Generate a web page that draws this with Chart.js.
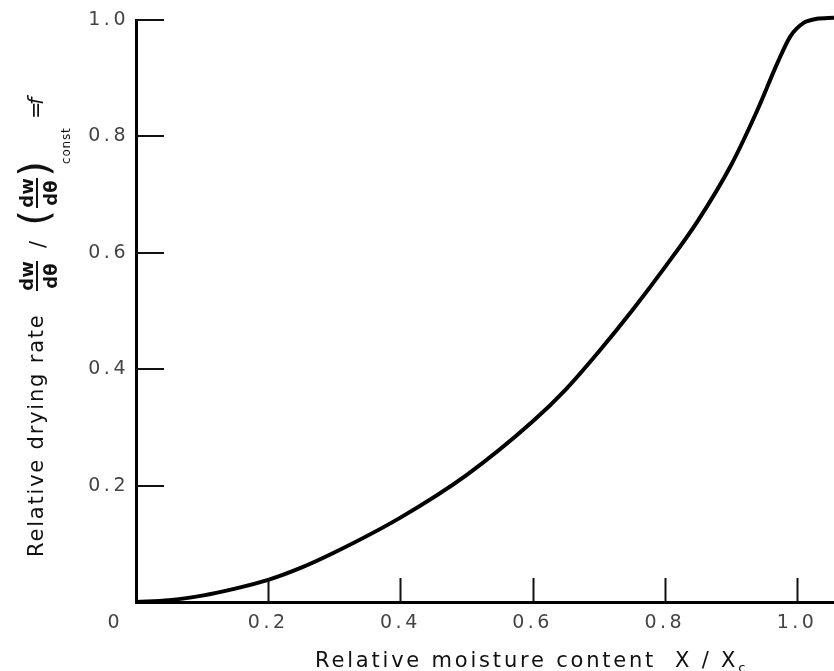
<!DOCTYPE html>
<html>
<head>
<meta charset="utf-8">
<script src="https://cdn.jsdelivr.net/npm/chart.js@4/dist/chart.umd.min.js"></script>
<style>
  html, body { margin: 0; padding: 0; background: #fff; }
  #wrap { width: 834px; height: 671px; }
</style>
</head>
<body>
<div id="wrap"><canvas id="dryingChart" width="834" height="671"></canvas></div>
<script>
// curve: relative moisture content vs relative drying rate
const moistureX = [0, 0.05, 0.1, 0.15, 0.2, 0.25, 0.3, 0.4, 0.5, 0.6, 0.65, 0.7, 0.75, 0.8, 0.85, 0.9, 0.94, 0.97, 0.99, 1.01, 1.03, 1.056];
const dryingRate = [0, 0.003, 0.011, 0.023, 0.038, 0.059, 0.085, 0.145, 0.218, 0.31, 0.365, 0.43, 0.5, 0.575, 0.655, 0.75, 0.845, 0.925, 0.972, 0.995, 1.002, 1.004];

// tick values and labels
const xTickValues = [0, 0.2, 0.4, 0.6, 0.8, 1.0];
const yTickValues = [0, 0.2, 0.4, 0.6, 0.8, 1.0];
const cornerLabel = '0';

const labelFont = '"DejaVu Sans", sans-serif';

// spaced out lettering like the plotter text of the original
const spacing = {
  id: 'spacing',
  beforeDraw(chart) {
    chart.ctx.letterSpacing = '3.5px';
  }
};

// tick marks point into the plot, plus the axis titles
const extras = {
  id: 'extras',
  afterDraw(chart) {
    const { ctx, chartArea, scales: { x, y } } = chart;
    ctx.save();
    ctx.strokeStyle = '#111';
    ctx.lineWidth = 2;
    ctx.beginPath();
    xTickValues.filter(v => v > 0).forEach(v => {
      const px = Math.round(x.getPixelForValue(v)) + 0.5;
      ctx.moveTo(px, chartArea.bottom);
      ctx.lineTo(px, chartArea.bottom - 24);
    });
    yTickValues.filter(v => v > 0).forEach(v => {
      const py = Math.round(y.getPixelForValue(v));
      ctx.moveTo(chartArea.left, py);
      ctx.lineTo(chartArea.left + 28, py);
    });
    ctx.stroke();

    // "0" at the corner
    ctx.fillStyle = '#444';
    ctx.font = '19px ' + labelFont;
    ctx.letterSpacing = '3px';
    ctx.textAlign = 'center';
    ctx.textBaseline = 'alphabetic';
    ctx.fillText(cornerLabel, x.getPixelForValue(0) - 21, 628);

    // x title with subscript c
    ctx.fillStyle = '#111';
    ctx.textAlign = 'left';
    ctx.font = '21px ' + labelFont;
    ctx.letterSpacing = '2.8px';
    const xt = 'Relative moisture content  X / X';
    ctx.fillText(xt, 315, 667);
    const w = ctx.measureText(xt).width;
    ctx.font = '13px ' + labelFont;
    ctx.letterSpacing = '0px';
    ctx.fillText('c', 315 + w, 672);

    // y title, rotated: u runs upward along the axis, v is screen x
    ctx.save();
    ctx.translate(0, 557);
    ctx.rotate(-Math.PI / 2);
    ctx.font = '21px ' + labelFont;
    ctx.letterSpacing = '1.8px';
    ctx.fillText('Relative drying rate', 0, 43);

    const frac = (cu) => {
      ctx.font = 'bold 18px ' + labelFont;
      ctx.letterSpacing = '0px';
      ctx.textAlign = 'center';
      ctx.fillText('dw', cu, 33);
      ctx.fillText('dθ', cu, 57);
      ctx.fillRect(cu - 15, 36, 30, 2);
      ctx.textAlign = 'left';
    };
    frac(281);
    ctx.font = '21px ' + labelFont;
    ctx.fillText('/', 309, 45);
    ctx.font = '40px ' + labelFont;
    ctx.textAlign = 'center';
    ctx.textBaseline = 'middle';
    ctx.fillText('(', 339, 38);
    ctx.fillText(')', 388, 38);
    ctx.textBaseline = 'alphabetic';
    ctx.textAlign = 'left';
    frac(364);
    ctx.font = '12px ' + labelFont;
    ctx.letterSpacing = '0.8px';
    ctx.fillText('const', 393, 70);
    ctx.font = '21px ' + labelFont;
    ctx.letterSpacing = '0px';
    ctx.fillText('=', 438, 43);
    ctx.font = 'italic 21px ' + labelFont;
    ctx.fillText('f', 452, 43);
    ctx.restore();

    ctx.restore();
  }
};

const data = {
  datasets: [{
    data: moistureX.map((v, i) => ({ x: v, y: dryingRate[i] })),
    borderColor: '#000',
    borderWidth: 4,
    pointRadius: 0,
    fill: false,
    cubicInterpolationMode: 'monotone',
    clip: false
  }]
};

const tickLabel = v => (v === 0 ? '' : v.toFixed(1));

const config = {
  type: 'line',
  data: data,
  options: {
    responsive: false,
    animation: false,
    events: [],
    layout: { padding: { top: 20, right: 0, left: 0, bottom: 0 } },
    plugins: {
      legend: { display: false },
      tooltip: { enabled: false },
      title: { display: false }
    },
    scales: {
      x: {
        type: 'linear',
        min: 0,
        max: 1.056,
        afterBuildTicks: s => { s.ticks = xTickValues.map(v => ({ value: v })); },
        afterFit: s => { s.height = 69; },
        grid: { drawOnChartArea: false, drawTicks: false },
        border: { display: true, color: '#000', width: 3 },
        ticks: {
          callback: tickLabel,
          padding: 10,
          maxRotation: 0,
          color: '#444',
          font: { family: labelFont, size: 19 }
        }
      },
      y: {
        type: 'linear',
        min: 0,
        max: 1.0,
        afterBuildTicks: s => { s.ticks = yTickValues.map(v => ({ value: v })); },
        afterFit: s => { s.width = 136; },
        grid: { drawOnChartArea: false, drawTicks: false },
        border: { display: true, color: '#000', width: 3 },
        ticks: {
          callback: tickLabel,
          padding: 7,
          color: '#444',
          font: { family: labelFont, size: 19 }
        }
      }
    }
  },
  plugins: [spacing, extras]
};

const ctx = document.getElementById('dryingChart').getContext('2d');
new Chart(ctx, config);
</script>
</body>
</html>
